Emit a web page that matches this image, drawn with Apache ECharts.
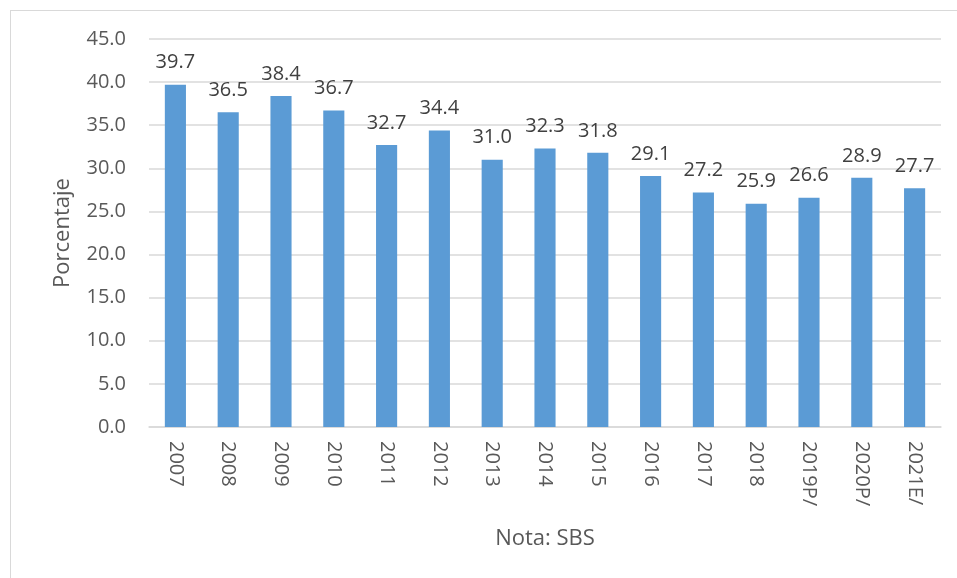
<!DOCTYPE html>
<html>
<head>
<meta charset="utf-8">
<script src="https://cdn.jsdelivr.net/npm/echarts@6/dist/echarts.min.js"></script>
<style>
  html, body { margin: 0; padding: 0; background: #fff; }
  #frame { position: absolute; left: 10px; top: 10px; width: 960px; height: 580px; border: 1px solid #d9d9d9; }
  #chart { position: absolute; left: 0; top: 0; width: 957px; height: 578px; }
</style>
</head>
<body>
<div id="frame"></div>
<div id="chart"></div>
<script>
const years = ['2007', '2008', '2009', '2010', '2011', '2012', '2013', '2014',
  '2015', '2016', '2017', '2018', '2019P/', '2020P/', '2021E/'];
const porcentaje = [39.7, 36.5, 38.4, 36.7, 32.7, 34.4, 31.0, 32.3,
  31.8, 29.1, 27.2, 25.9, 26.6, 28.9, 27.7];

const chart = echarts.init(document.getElementById('chart'));
const font = '"Open Sans", "Noto Sans", sans-serif';

chart.setOption({
  animation: false,
  textStyle: { fontFamily: font },
  grid: { left: 149, right: 16, top: 39, bottom: 151 },
  xAxis: {
    type: 'category',
    data: years,
    name: 'Nota: SBS',
    nameLocation: 'middle',
    nameGap: 101,
    nameTextStyle: { fontSize: 22, color: '#595959', fontFamily: font },
    axisLine: { lineStyle: { color: '#d9d9d9', width: 1.5 } },
    axisTick: { show: false },
    axisLabel: { rotate: -90, fontSize: 20, color: '#595959', margin: 14, fontFamily: font }
  },
  yAxis: {
    type: 'value',
    min: 0,
    max: 45,
    interval: 5,
    name: 'Porcentaje',
    nameLocation: 'middle',
    nameGap: 75,
    nameTextStyle: { fontSize: 22, color: '#595959', fontFamily: font },
    axisLine: { show: false },
    axisTick: { show: false },
    splitLine: { lineStyle: { color: '#d9d9d9', width: 1.5 } },
    axisLabel: { fontSize: 20, color: '#595959', margin: 23, fontFamily: font,
      formatter: (v) => v.toFixed(1) }
  },
  series: [{
    type: 'bar',
    data: porcentaje,
    barWidth: '40%',
    itemStyle: { color: '#5b9bd5' },
    label: {
      show: true,
      position: 'top',
      distance: 12,
      fontSize: 20,
      color: '#404040',
      fontFamily: font,
      formatter: (p) => p.value.toFixed(1)
    }
  }]
});
</script>
</body>
</html>
